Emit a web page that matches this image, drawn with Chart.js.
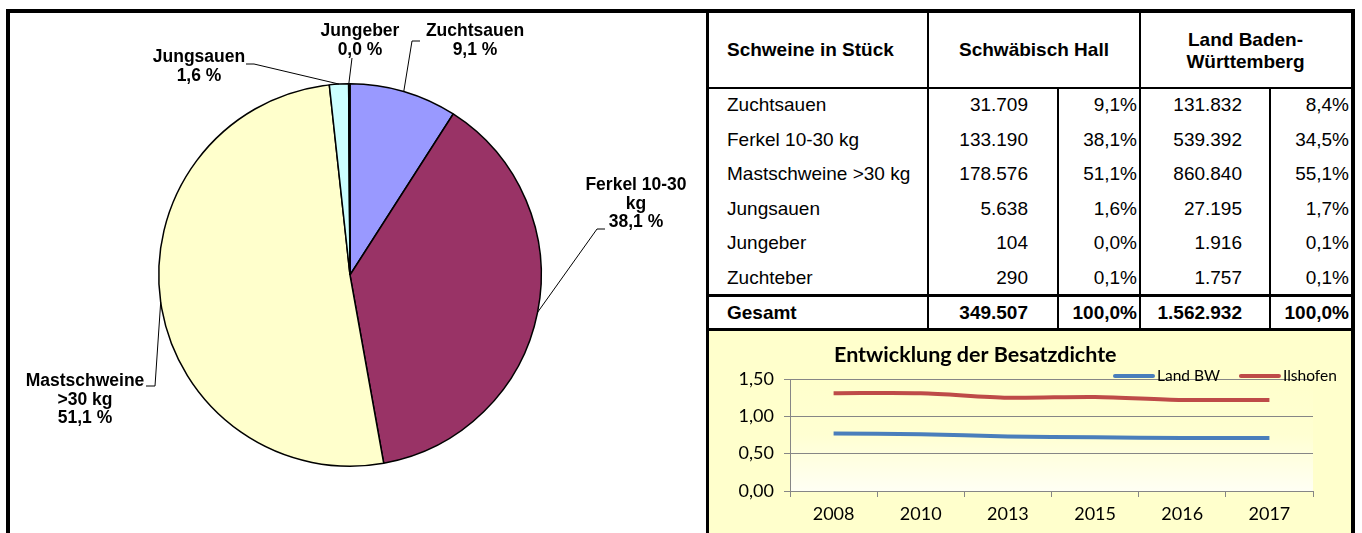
<!DOCTYPE html>
<html>
<head>
<meta charset="utf-8">
<script src="https://cdn.jsdelivr.net/npm/chart.js@4.4.0/dist/chart.umd.min.js"></script>
<style>
  body { margin: 0; width: 1362px; height: 533px; overflow: hidden; background: #fff; position: relative;
         font-family: "Liberation Sans", Arial, sans-serif; }
  #frame { position: absolute; left: 6px; top: 9px; width: 1341px; height: 540px; border: 4px solid #000;
           border-bottom: none; z-index: 5; pointer-events: none; }
  #divider { position: absolute; left: 706px; top: 13px; width: 3px; height: 520px; background: #000; z-index: 5; }
  #pie { position: absolute; left: 0; top: 0; }
  #table { position: absolute; left: 0; top: 0; }
  .cell { position: absolute; box-sizing: border-box; white-space: nowrap; font-size: 19px; color: #000; }
  .hline, .vline { position: absolute; background: #000; }
  #lineBox { position: absolute; left: 709px; top: 331px; width: 642px; height: 202px; background: #FFFFCC; }
</style>
</head>
<body>
<div id="frame"></div>
<div id="divider"></div>
<canvas id="pie" width="706" height="533"></canvas>
<div id="table"></div>
<div id="lineBox"><canvas id="line" width="642" height="202"></canvas></div>

<script>
// pig counts (Schwäbisch Hall and Baden-Württemberg)
const categories = ['Zuchtsauen', 'Ferkel 10-30 kg', 'Mastschweine >30 kg', 'Jungsauen', 'Jungeber', 'Zuchteber'];
const hallCounts = [31709, 133190, 178576, 5638, 104, 290];
const bwCounts = [131832, 539392, 860840, 27195, 1916, 1757];
const pieColors = ['#9999FF', '#993366', '#FFFFCC', '#CCFFFF', '#FFFFFF', '#660066'];

// stocking density
const years = ['2008', '2010', '2013', '2015', '2016', '2017'];
const densityBW = [0.77, 0.76, 0.73, 0.72, 0.71, 0.71];
const densityIlshofen = [1.31, 1.31, 1.25, 1.26, 1.22, 1.22];
const yTicks = [0, 0.5, 1, 1.5];

const sum = arr => arr.reduce((a, b) => a + b, 0);
const fmtInt = n => String(n).replace(/\B(?=(\d{3})+(?!\d))/g, '.');
const fmtPct = (v, sep) => v.toFixed(1).replace('.', ',') + sep + '%';

const hallTotal = sum(hallCounts);
const bwTotal = sum(bwCounts);

// ---------- table ----------
const table = document.getElementById('table');
const cols = [
  { x0: 709, x1: 928, align: 'left', pad: 18 },
  { x0: 928, x1: 1058, align: 'right', pad: 30 },
  { x0: 1058, x1: 1140, align: 'right', pad: 3 },
  { x0: 1140, x1: 1270, align: 'right', pad: 28 },
  { x0: 1270, x1: 1351, align: 'right', pad: 2 }
];

function cell(text, x0, x1, top, h, align, pad, bold) {
  const d = document.createElement('div');
  d.className = 'cell';
  d.style.left = x0 + 'px';
  d.style.width = (x1 - x0) + 'px';
  d.style.top = top + 'px';
  d.style.height = h + 'px';
  d.style.lineHeight = h + 'px';
  d.style.textAlign = align;
  if (align === 'left') d.style.paddingLeft = pad + 'px';
  else if (align === 'right') d.style.paddingRight = pad + 'px';
  if (bold) d.style.fontWeight = 'bold';
  d.innerHTML = text;
  table.appendChild(d);
}
function line(cls, x, y, w, h) {
  const d = document.createElement('div');
  d.className = cls;
  d.style.left = x + 'px'; d.style.top = y + 'px';
  d.style.width = w + 'px'; d.style.height = h + 'px';
  table.appendChild(d);
}

// header
cell('Schweine in Stück', 709, 928, 13, 74, 'left', 18, true);
cell('Schwäbisch Hall', 928, 1140, 13, 74, 'center', 0, true);
const hdr = document.createElement('div');
hdr.className = 'cell';
Object.assign(hdr.style, { left: '1140px', width: '211px', top: '29px', textAlign: 'center',
  fontWeight: 'bold', lineHeight: '22px' });
hdr.innerHTML = 'Land Baden-<br>Württemberg';
table.appendChild(hdr);

const rowTop = 88, rowH = 34.6;
categories.forEach((c, i) => {
  const t = rowTop + i * rowH;
  const vals = [c, fmtInt(hallCounts[i]), fmtPct(hallCounts[i] / hallTotal * 100, ''),
                fmtInt(bwCounts[i]), fmtPct(bwCounts[i] / bwTotal * 100, '')];
  vals.forEach((v, j) => cell(v, cols[j].x0, cols[j].x1, t, rowH, cols[j].align, cols[j].pad, false));
});
const totVals = ['Gesamt', fmtInt(hallTotal), '100,0%', fmtInt(bwTotal), '100,0%'];
totVals.forEach((v, j) => cell(v, cols[j].x0, cols[j].x1, 297, 31, cols[j].align, cols[j].pad, true));

line('hline', 709, 87, 642, 2);
line('hline', 709, 294, 642, 3);
line('hline', 709, 328, 642, 3);
line('vline', 927, 13, 2, 317);
line('vline', 1139, 13, 2, 317);
line('vline', 1057, 88, 2, 242);
line('vline', 1269, 88, 2, 242);

// ---------- pie ----------
const pieLabelLayout = [
  { cx: 475, y: 31, pts: [[412, 41], [420, 41]] },
  { cx: 636, y: 185, pts: [[597, 229], [605, 229]] },
  { cx: 85, y: 381, pts: [[155, 386], [146, 386]] },
  { cx: 199, y: 57, pts: [[254, 64], [246, 64]] },
  { cx: 360, y: 31, pts: [[352, 58]] },
  null
];

function wrapWords(ctx, text, maxW) {
  const words = text.split(' ');
  const out = [];
  let cur = '';
  words.forEach(w => {
    const test = cur ? cur + ' ' + w : w;
    if (cur && ctx.measureText(test).width > maxW) { out.push(cur); cur = w; }
    else cur = test;
  });
  if (cur) out.push(cur);
  return out;
}

const pieLabels = {
  id: 'pieLabels',
  afterDraw(chart) {
    const ctx = chart.ctx;
    const meta = chart.getDatasetMeta(0);
    const data = chart.data.datasets[0].data;
    const total = sum(data);
    ctx.save();
    ctx.font = 'bold 17.5px "Liberation Sans", Arial, sans-serif';
    ctx.fillStyle = '#000';
    ctx.strokeStyle = '#000';
    ctx.lineWidth = 1;
    ctx.textAlign = 'center';
    ctx.textBaseline = 'middle';
    meta.data.forEach((arc, i) => {
      const lay = pieLabelLayout[i];
      if (!lay) return;
      const p = arc.getProps(['x', 'y', 'startAngle', 'endAngle', 'outerRadius'], true);
      const mid = (p.startAngle + p.endAngle) / 2;
      const ex = p.x + Math.cos(mid) * p.outerRadius;
      const ey = p.y + Math.sin(mid) * p.outerRadius;
      ctx.beginPath();
      ctx.moveTo(ex, ey);
      lay.pts.forEach(q => ctx.lineTo(q[0], q[1]));
      ctx.stroke();
      const lines = wrapWords(ctx, chart.data.labels[i], 112);
      lines.push(fmtPct(data[i] / total * 100, ' '));
      lines.forEach((l, k) => ctx.fillText(l, lay.cx, lay.y + k * 18.8));
    });
    ctx.restore();
  }
};

new Chart(document.getElementById('pie'), {
  type: 'pie',
  data: {
    labels: categories,
    datasets: [{ data: hallCounts, backgroundColor: pieColors, borderColor: '#000', borderWidth: 1.5 }]
  },
  options: {
    responsive: false,
    animation: false,
    events: [],
    layout: { padding: { left: 158, top: 83, right: 164, bottom: 66 } },
    plugins: { legend: { display: false }, tooltip: { enabled: false } }
  },
  plugins: [pieLabels]
});

// ---------- line chart ----------
const plotBackground = {
  id: 'plotBackground',
  beforeDraw(chart) {
    const { ctx, chartArea: a } = chart;
    const g = ctx.createLinearGradient(0, a.top, 0, a.bottom);
    g.addColorStop(0, '#FFFFCC');
    g.addColorStop(0.5, '#FFFFD2');
    g.addColorStop(1, '#FFFFF4');
    ctx.save();
    ctx.fillStyle = g;
    ctx.fillRect(a.left, a.top, a.right - a.left, a.bottom - a.top);
    ctx.restore();
  }
};

const titleLegend = {
  id: 'titleLegend',
  afterDraw(chart) {
    const ctx = chart.ctx;
    ctx.save();
    ctx.fillStyle = '#000';
    ctx.textBaseline = 'middle';
    ctx.textAlign = 'left';
    ctx.font = 'bold 21.5px Lato, "Open Sans", sans-serif';
    ctx.fillText('Entwicklung der Besatzdichte', 125, 24);
    ctx.font = '15.5px Lato, "Open Sans", sans-serif';
    let x = 404;
    chart.data.datasets.forEach(ds => {
      ctx.strokeStyle = ds.borderColor;
      ctx.lineWidth = 4;
      ctx.lineCap = 'round';
      ctx.beginPath();
      ctx.moveTo(x + 2, 45);
      ctx.lineTo(x + 40, 45);
      ctx.stroke();
      ctx.fillText(ds.label, x + 44, 45);
      x += 44 + ctx.measureText(ds.label).width + 19;
    });
    ctx.restore();
  }
};

const tickFont = { family: 'Lato, "Open Sans", sans-serif', size: 18 };

new Chart(document.getElementById('line'), {
  type: 'line',
  data: {
    labels: years,
    datasets: [
      { label: 'Land BW', data: densityBW, borderColor: '#4A7EBB', borderWidth: 4, pointRadius: 0, tension: 0.3 },
      { label: 'Ilshofen', data: densityIlshofen, borderColor: '#BE4B48', borderWidth: 4, pointRadius: 0, tension: 0.3 }
    ]
  },
  options: {
    responsive: false,
    animation: false,
    events: [],
    layout: { padding: { top: 48, right: 38, left: 0, bottom: 0 } },
    scales: {
      x: {
        offset: true,
        grid: { offset: true, drawOnChartArea: false, color: '#868686', tickLength: 6 },
        border: { color: '#868686' },
        ticks: { font: tickFont, color: '#000', padding: 6, maxRotation: 0 },
        afterFit(s) { s.height = 42; }
      },
      y: {
        min: 0, max: 1.5,
        afterBuildTicks(s) { s.ticks = yTicks.map(v => ({ value: v })); },
        grid: { color: '#868686', tickLength: 6 },
        border: { color: '#868686' },
        ticks: { font: tickFont, color: '#000', padding: 10, callback: v => v.toFixed(2).replace('.', ',') },
        afterFit(s) { s.width = 81; }
      }
    },
    plugins: { legend: { display: false }, tooltip: { enabled: false } }
  },
  plugins: [plotBackground, titleLegend]
});
</script>
</body>
</html>
